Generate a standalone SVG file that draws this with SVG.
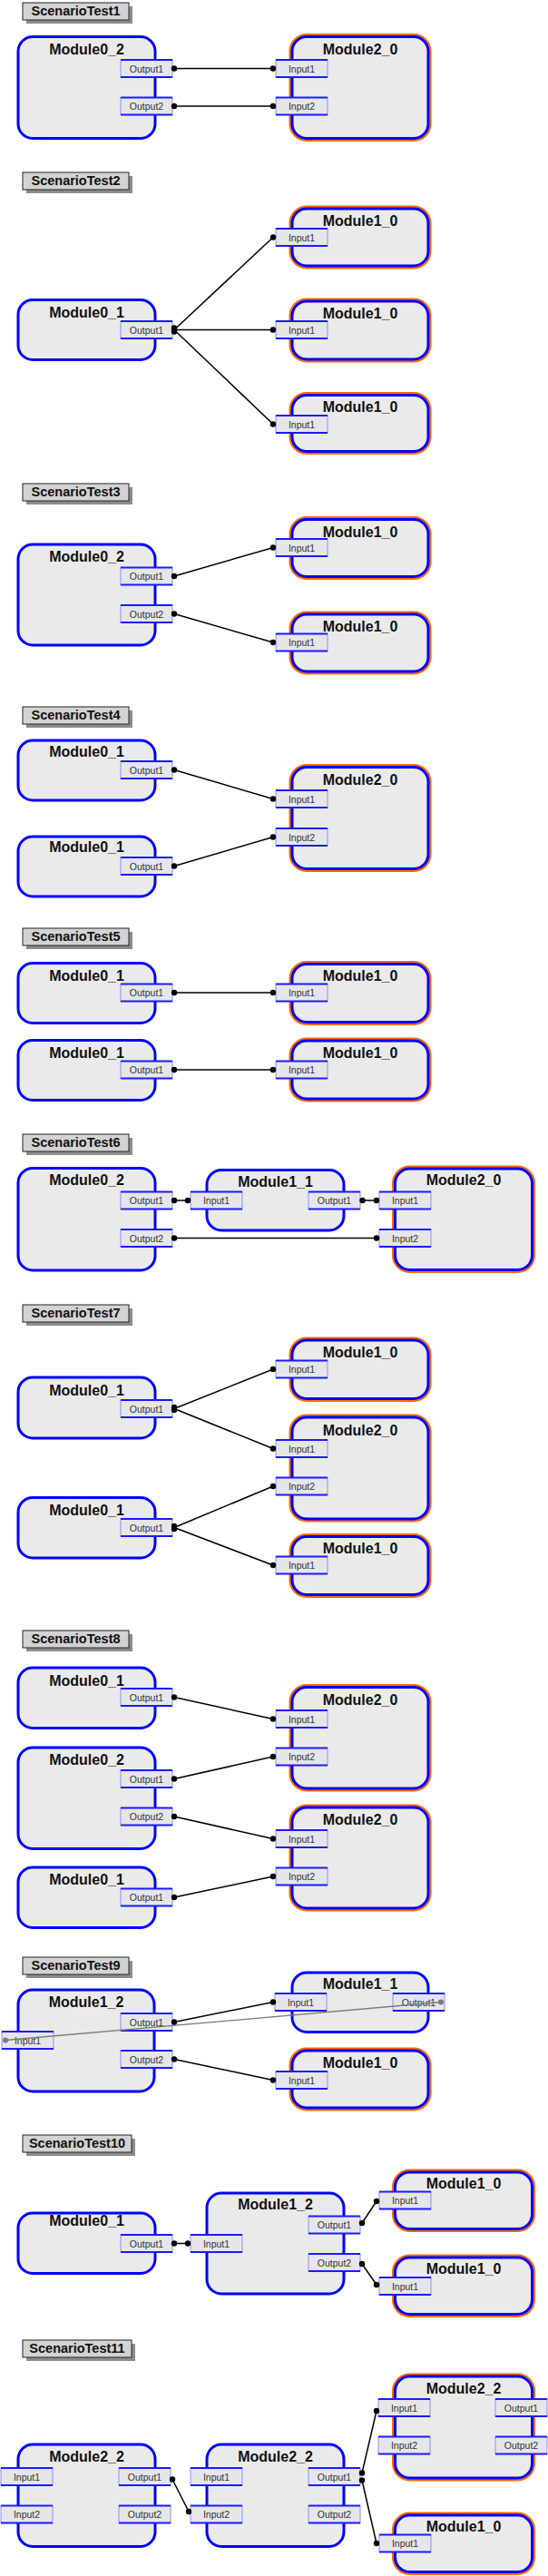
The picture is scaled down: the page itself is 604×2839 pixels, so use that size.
<svg xmlns="http://www.w3.org/2000/svg" width="604" height="2839" viewBox="0 0 604 2839">
<style>
.sh{fill:#8c8c8c}
.lb{fill:#d3d3d3;stroke:#222;stroke-width:1}
.lt{font-family:"Liberation Sans",Arial,sans-serif;font-weight:bold;font-size:14.5px;text-anchor:middle;fill:#111}
.org{fill:none;stroke:#ff6a00;stroke-width:7}
.mod{fill:#eaeaea;stroke:#0000ff;stroke-width:3}
.mt{font-family:"Liberation Sans",Arial,sans-serif;font-weight:bold;font-size:16px;text-anchor:middle;fill:#111}
.pb{fill:#e6e6e9;stroke:#8c8cff;stroke-width:1}
.pl{stroke:#1a1aff;stroke-width:2;fill:none}
.pt{font-family:"Liberation Sans",Arial,sans-serif;font-size:10.5px;text-anchor:middle;fill:#333}
.cn{stroke:#000;stroke-width:1.5;fill:none}
.dot{fill:#000}
.gcn{stroke:#7a7a7a;stroke-width:1.3;fill:none}
.gdot{fill:#7a7a7a}
</style>
<defs>
<g id="pbox"><rect class="pb" width="57" height="19"/><path class="pl" d="M0 0H57M0 19H57"/></g>
</defs>

<!-- Scenario 1 -->
<g id="label1"><rect class="sh" x="29" y="7" width="117" height="19"/><rect class="lb" x="25" y="3" width="117" height="19"/><text class="lt" x="83.5" y="17">ScenarioTest1</text></g>
<g id="s1_Module0_2"><rect class="mod" x="20" y="40.5" width="151" height="112" rx="16"/><text class="mt" x="95.5" y="59.5">Module0_2</text>
<g transform="translate(133,66)"><use href="#pbox"/><text class="pt" x="28.5" y="13.5">Output1</text></g>
<g transform="translate(133,107.5)"><use href="#pbox"/><text class="pt" x="28.5" y="13.5">Output2</text></g></g>
<g id="s1_Module2_0"><rect class="org" x="322" y="40.5" width="150" height="112" rx="16"/><rect class="mod" x="322" y="40.5" width="150" height="112" rx="16"/><text class="mt" x="397" y="59.5">Module2_0</text>
<g transform="translate(304,66)"><use href="#pbox"/><text class="pt" x="28.5" y="13.5">Input1</text></g>
<g transform="translate(304,107.5)"><use href="#pbox"/><text class="pt" x="28.5" y="13.5">Input2</text></g></g>

<!-- Scenario 2 -->
<g id="label2"><rect class="sh" x="29" y="194" width="117" height="19"/><rect class="lb" x="25" y="190" width="117" height="19"/><text class="lt" x="83.5" y="204">ScenarioTest2</text></g>
<g id="s2_Module1_0a"><rect class="org" x="322" y="230" width="150" height="63" rx="16"/><rect class="mod" x="322" y="230" width="150" height="63" rx="16"/><text class="mt" x="397" y="248.5">Module1_0</text>
<g transform="translate(304,252)"><use href="#pbox"/><text class="pt" x="28.5" y="13.5">Input1</text></g></g>
<g id="s2_Module0_1"><rect class="mod" x="20" y="330.5" width="151" height="66" rx="16"/><text class="mt" x="95.5" y="350">Module0_1</text>
<g transform="translate(133,354)"><use href="#pbox"/><text class="pt" x="28.5" y="13.5">Output1</text></g></g>
<g id="s2_Module1_0b"><rect class="org" x="322" y="332" width="150" height="64" rx="16"/><rect class="mod" x="322" y="332" width="150" height="64" rx="16"/><text class="mt" x="397" y="350.5">Module1_0</text>
<g transform="translate(304,354)"><use href="#pbox"/><text class="pt" x="28.5" y="13.5">Input1</text></g></g>
<g id="s2_Module1_0c"><rect class="org" x="322" y="435.5" width="150" height="62" rx="16"/><rect class="mod" x="322" y="435.5" width="150" height="62" rx="16"/><text class="mt" x="397" y="454">Module1_0</text>
<g transform="translate(304,458)"><use href="#pbox"/><text class="pt" x="28.5" y="13.5">Input1</text></g></g>

<!-- Scenario 3 -->
<g id="label3"><rect class="sh" x="29" y="537" width="117" height="19"/><rect class="lb" x="25" y="533" width="117" height="19"/><text class="lt" x="83.5" y="547">ScenarioTest3</text></g>
<g id="s3_Module1_0a"><rect class="org" x="322" y="572.5" width="150" height="63" rx="16"/><rect class="mod" x="322" y="572.5" width="150" height="63" rx="16"/><text class="mt" x="397" y="592">Module1_0</text>
<g transform="translate(304,594)"><use href="#pbox"/><text class="pt" x="28.5" y="13.5">Input1</text></g></g>
<g id="s3_Module0_2"><rect class="mod" x="20" y="600" width="151" height="111" rx="16"/><text class="mt" x="95.5" y="618.5">Module0_2</text>
<g transform="translate(133,625.5)"><use href="#pbox"/><text class="pt" x="28.5" y="13.5">Output1</text></g>
<g transform="translate(133,667)"><use href="#pbox"/><text class="pt" x="28.5" y="13.5">Output2</text></g></g>
<g id="s3_Module1_0b"><rect class="org" x="322" y="677" width="150" height="63" rx="16"/><rect class="mod" x="322" y="677" width="150" height="63" rx="16"/><text class="mt" x="397" y="695.5">Module1_0</text>
<g transform="translate(304,698.5)"><use href="#pbox"/><text class="pt" x="28.5" y="13.5">Input1</text></g></g>

<!-- Scenario 4 -->
<g id="label4"><rect class="sh" x="29" y="783" width="117" height="19"/><rect class="lb" x="25" y="779" width="117" height="19"/><text class="lt" x="83.5" y="793">ScenarioTest4</text></g>
<g id="s4_Module0_1a"><rect class="mod" x="20" y="816" width="151" height="66" rx="16"/><text class="mt" x="95.5" y="834">Module0_1</text>
<g transform="translate(133,839)"><use href="#pbox"/><text class="pt" x="28.5" y="13.5">Output1</text></g></g>
<g id="s4_Module2_0"><rect class="org" x="322" y="845.5" width="150" height="112" rx="16"/><rect class="mod" x="322" y="845.5" width="150" height="112" rx="16"/><text class="mt" x="397" y="865">Module2_0</text>
<g transform="translate(304,871)"><use href="#pbox"/><text class="pt" x="28.5" y="13.5">Input1</text></g>
<g transform="translate(304,913)"><use href="#pbox"/><text class="pt" x="28.5" y="13.5">Input2</text></g></g>
<g id="s4_Module0_1b"><rect class="mod" x="20" y="922" width="151" height="66" rx="16"/><text class="mt" x="95.5" y="939">Module0_1</text>
<g transform="translate(133,945)"><use href="#pbox"/><text class="pt" x="28.5" y="13.5">Output1</text></g></g>

<!-- Scenario 5 -->
<g id="label5"><rect class="sh" x="29" y="1027" width="117" height="19"/><rect class="lb" x="25" y="1023" width="117" height="19"/><text class="lt" x="83.5" y="1037">ScenarioTest5</text></g>
<g id="s5_Module0_1a"><rect class="mod" x="20" y="1061.5" width="151" height="66" rx="16"/><text class="mt" x="95.5" y="1080.5">Module0_1</text>
<g transform="translate(133,1084.5)"><use href="#pbox"/><text class="pt" x="28.5" y="13.5">Output1</text></g></g>
<g id="s5_Module1_0a"><rect class="org" x="322" y="1062.5" width="150" height="64" rx="16"/><rect class="mod" x="322" y="1062.5" width="150" height="64" rx="16"/><text class="mt" x="397" y="1080.5">Module1_0</text>
<g transform="translate(304,1084.5)"><use href="#pbox"/><text class="pt" x="28.5" y="13.5">Input1</text></g></g>
<g id="s5_Module0_1b"><rect class="mod" x="20" y="1146.5" width="151" height="66" rx="16"/><text class="mt" x="95.5" y="1165.5">Module0_1</text>
<g transform="translate(133,1169.5)"><use href="#pbox"/><text class="pt" x="28.5" y="13.5">Output1</text></g></g>
<g id="s5_Module1_0b"><rect class="org" x="322" y="1147" width="150" height="64" rx="16"/><rect class="mod" x="322" y="1147" width="150" height="64" rx="16"/><text class="mt" x="397" y="1165.5">Module1_0</text>
<g transform="translate(304,1169.5)"><use href="#pbox"/><text class="pt" x="28.5" y="13.5">Input1</text></g></g>

<!-- Scenario 6 -->
<g id="label6"><rect class="sh" x="29" y="1254" width="117" height="19"/><rect class="lb" x="25" y="1250" width="117" height="19"/><text class="lt" x="83.5" y="1264">ScenarioTest6</text></g>
<g id="s6_Module0_2"><rect class="mod" x="20" y="1287.5" width="151" height="112.5" rx="16"/><text class="mt" x="95.5" y="1306">Module0_2</text>
<g transform="translate(133,1313.5)"><use href="#pbox"/><text class="pt" x="28.5" y="13.5">Output1</text></g>
<g transform="translate(133,1355)"><use href="#pbox"/><text class="pt" x="28.5" y="13.5">Output2</text></g></g>
<g id="s6_Module1_1"><rect class="mod" x="228" y="1289.5" width="151" height="66.5" rx="16"/><text class="mt" x="303.5" y="1307.5">Module1_1</text>
<g transform="translate(210,1313.5)"><use href="#pbox"/><text class="pt" x="28.5" y="13.5">Input1</text></g>
<g transform="translate(340,1313.5)"><use href="#pbox"/><text class="pt" x="28.5" y="13.5">Output1</text></g></g>
<g id="s6_Module2_0"><rect class="org" x="435.5" y="1288" width="151" height="111.5" rx="16"/><rect class="mod" x="435.5" y="1288" width="151" height="111.5" rx="16"/><text class="mt" x="511" y="1306">Module2_0</text>
<g transform="translate(418,1313.5)"><use href="#pbox"/><text class="pt" x="28.5" y="13.5">Input1</text></g>
<g transform="translate(418,1355)"><use href="#pbox"/><text class="pt" x="28.5" y="13.5">Input2</text></g></g>

<!-- Scenario 7 -->
<g id="label7"><rect class="sh" x="29" y="1442" width="117" height="19"/><rect class="lb" x="25" y="1438" width="117" height="19"/><text class="lt" x="83.5" y="1452">ScenarioTest7</text></g>
<g id="s7_Module1_0a"><rect class="org" x="322" y="1477" width="150" height="64.5" rx="16"/><rect class="mod" x="322" y="1477" width="150" height="64.5" rx="16"/><text class="mt" x="397" y="1495.5">Module1_0</text>
<g transform="translate(304,1499.5)"><use href="#pbox"/><text class="pt" x="28.5" y="13.5">Input1</text></g></g>
<g id="s7_Module0_1a"><rect class="mod" x="20" y="1518" width="151" height="67" rx="16"/><text class="mt" x="95.5" y="1537.5">Module0_1</text>
<g transform="translate(133,1543)"><use href="#pbox"/><text class="pt" x="28.5" y="13.5">Output1</text></g></g>
<g id="s7_Module2_0"><rect class="org" x="322" y="1562" width="150" height="112" rx="16"/><rect class="mod" x="322" y="1562" width="150" height="112" rx="16"/><text class="mt" x="397" y="1581.5">Module2_0</text>
<g transform="translate(304,1587)"><use href="#pbox"/><text class="pt" x="28.5" y="13.5">Input1</text></g>
<g transform="translate(304,1628.5)"><use href="#pbox"/><text class="pt" x="28.5" y="13.5">Input2</text></g></g>
<g id="s7_Module0_1b"><rect class="mod" x="20" y="1650.5" width="151" height="66.5" rx="16"/><text class="mt" x="95.5" y="1670">Module0_1</text>
<g transform="translate(133,1674)"><use href="#pbox"/><text class="pt" x="28.5" y="13.5">Output1</text></g></g>
<g id="s7_Module1_0c"><rect class="org" x="322" y="1693.5" width="150" height="64" rx="16"/><rect class="mod" x="322" y="1693.5" width="150" height="64" rx="16"/><text class="mt" x="397" y="1712">Module1_0</text>
<g transform="translate(304,1715.5)"><use href="#pbox"/><text class="pt" x="28.5" y="13.5">Input1</text></g></g>

<!-- Scenario 8 -->
<g id="label8"><rect class="sh" x="29" y="1801" width="117" height="19"/><rect class="lb" x="25" y="1797" width="117" height="19"/><text class="lt" x="83.5" y="1811">ScenarioTest8</text></g>
<g id="s8_Module0_1a"><rect class="mod" x="20" y="1838" width="151" height="66.5" rx="16"/><text class="mt" x="95.5" y="1857.5">Module0_1</text>
<g transform="translate(133,1861)"><use href="#pbox"/><text class="pt" x="28.5" y="13.5">Output1</text></g></g>
<g id="s8_Module2_0a"><rect class="org" x="322" y="1859.5" width="150" height="111.5" rx="16"/><rect class="mod" x="322" y="1859.5" width="150" height="111.5" rx="16"/><text class="mt" x="397" y="1878.5">Module2_0</text>
<g transform="translate(304,1885)"><use href="#pbox"/><text class="pt" x="28.5" y="13.5">Input1</text></g>
<g transform="translate(304,1926.5)"><use href="#pbox"/><text class="pt" x="28.5" y="13.5">Input2</text></g></g>
<g id="s8_Module0_2"><rect class="mod" x="20" y="1926" width="151" height="111.5" rx="16"/><text class="mt" x="95.5" y="1945">Module0_2</text>
<g transform="translate(133,1951)"><use href="#pbox"/><text class="pt" x="28.5" y="13.5">Output1</text></g>
<g transform="translate(133,1992.5)"><use href="#pbox"/><text class="pt" x="28.5" y="13.5">Output2</text></g></g>
<g id="s8_Module2_0b"><rect class="org" x="322" y="1992" width="150" height="111" rx="16"/><rect class="mod" x="322" y="1992" width="150" height="111" rx="16"/><text class="mt" x="397" y="2011">Module2_0</text>
<g transform="translate(304,2017)"><use href="#pbox"/><text class="pt" x="28.5" y="13.5">Input1</text></g>
<g transform="translate(304,2058.5)"><use href="#pbox"/><text class="pt" x="28.5" y="13.5">Input2</text></g></g>
<g id="s8_Module0_1b"><rect class="mod" x="20" y="2058" width="151" height="66.5" rx="16"/><text class="mt" x="95.5" y="2077">Module0_1</text>
<g transform="translate(133,2081.5)"><use href="#pbox"/><text class="pt" x="28.5" y="13.5">Output1</text></g></g>

<!-- Scenario 9 -->
<g id="label9"><rect class="sh" x="29" y="2161" width="117" height="19"/><rect class="lb" x="25" y="2157" width="117" height="19"/><text class="lt" x="83.5" y="2171">ScenarioTest9</text></g>
<g id="s9_Module1_1"><rect class="mod" x="322" y="2174" width="150" height="65.5" rx="16"/><text class="mt" x="397" y="2192">Module1_1</text>
<g transform="translate(303,2197)"><use href="#pbox"/><text class="pt" x="28.5" y="13.5">Input1</text></g>
<g transform="translate(433,2197)"><use href="#pbox"/><text class="pt" x="28.5" y="13.5">Output1</text></g></g>
<g id="s9_Module1_2"><rect class="mod" x="20" y="2193" width="150" height="112" rx="16"/><text class="mt" x="95" y="2211.5">Module1_2</text>
<g transform="translate(2,2239)"><use href="#pbox"/><text class="pt" x="28.5" y="13.5">Input1</text></g>
<g transform="translate(133,2219)"><use href="#pbox"/><text class="pt" x="28.5" y="13.5">Output1</text></g>
<g transform="translate(133,2260)"><use href="#pbox"/><text class="pt" x="28.5" y="13.5">Output2</text></g></g>
<g id="s9_Module1_0"><rect class="org" x="322" y="2260" width="150" height="63" rx="16"/><rect class="mod" x="322" y="2260" width="150" height="63" rx="16"/><text class="mt" x="397" y="2278.5">Module1_0</text>
<g transform="translate(304,2283)"><use href="#pbox"/><text class="pt" x="28.5" y="13.5">Input1</text></g></g>

<!-- Scenario 10 -->
<g id="label10"><rect class="sh" x="29" y="2357" width="120" height="19"/><rect class="lb" x="25" y="2353" width="120" height="19"/><text class="lt" x="85" y="2367">ScenarioTest10</text></g>
<g id="s10_Module1_0a"><rect class="org" x="435.5" y="2394" width="151" height="62.5" rx="16"/><rect class="mod" x="435.5" y="2394" width="151" height="62.5" rx="16"/><text class="mt" x="511" y="2412">Module1_0</text>
<g transform="translate(418,2415.5)"><use href="#pbox"/><text class="pt" x="28.5" y="13.5">Input1</text></g></g>
<g id="s10_Module1_2"><rect class="mod" x="228" y="2417" width="151" height="111" rx="16"/><text class="mt" x="303.5" y="2435">Module1_2</text>
<g transform="translate(210,2463)"><use href="#pbox"/><text class="pt" x="28.5" y="13.5">Input1</text></g>
<g transform="translate(340,2442.5)"><use href="#pbox"/><text class="pt" x="28.5" y="13.5">Output1</text></g>
<g transform="translate(340,2484)"><use href="#pbox"/><text class="pt" x="28.5" y="13.5">Output2</text></g></g>
<g id="s10_Module0_1"><rect class="mod" x="20" y="2439" width="151" height="66.5" rx="16"/><text class="mt" x="95.5" y="2453">Module0_1</text>
<g transform="translate(133,2463)"><use href="#pbox"/><text class="pt" x="28.5" y="13.5">Output1</text></g></g>
<g id="s10_Module1_0b"><rect class="org" x="435.5" y="2488" width="151" height="62.5" rx="16"/><rect class="mod" x="435.5" y="2488" width="151" height="62.5" rx="16"/><text class="mt" x="511" y="2506">Module1_0</text>
<g transform="translate(418,2510)"><use href="#pbox"/><text class="pt" x="28.5" y="13.5">Input1</text></g></g>

<!-- Scenario 11 -->
<g id="label11"><rect class="sh" x="29" y="2583" width="120" height="19"/><rect class="lb" x="25" y="2579" width="120" height="19"/><text class="lt" x="85" y="2593">ScenarioTest11</text></g>
<g id="s11_Module2_2r"><rect class="org" x="435.5" y="2619" width="151" height="112" rx="16"/><rect class="mod" x="435.5" y="2619" width="151" height="112" rx="16"/><text class="mt" x="511" y="2637.5">Module2_2</text>
<g transform="translate(417,2644)"><use href="#pbox"/><text class="pt" x="28.5" y="13.5">Input1</text></g>
<g transform="translate(417,2685.5)"><use href="#pbox"/><text class="pt" x="28.5" y="13.5">Input2</text></g>
<g transform="translate(546,2644)"><use href="#pbox"/><text class="pt" x="28.5" y="13.5">Output1</text></g>
<g transform="translate(546,2685.5)"><use href="#pbox"/><text class="pt" x="28.5" y="13.5">Output2</text></g></g>
<g id="s11_Module2_2l"><rect class="mod" x="20" y="2694" width="151" height="112.5" rx="16"/><text class="mt" x="95.5" y="2713">Module2_2</text>
<g transform="translate(1,2720)"><use href="#pbox"/><text class="pt" x="28.5" y="13.5">Input1</text></g>
<g transform="translate(1,2761.5)"><use href="#pbox"/><text class="pt" x="28.5" y="13.5">Input2</text></g>
<g transform="translate(131,2720)"><use href="#pbox"/><text class="pt" x="28.5" y="13.5">Output1</text></g>
<g transform="translate(131,2761.5)"><use href="#pbox"/><text class="pt" x="28.5" y="13.5">Output2</text></g></g>
<g id="s11_Module2_2m"><rect class="mod" x="228" y="2694" width="151" height="112.5" rx="16"/><text class="mt" x="303.5" y="2713">Module2_2</text>
<g transform="translate(210,2720)"><use href="#pbox"/><text class="pt" x="28.5" y="13.5">Input1</text></g>
<g transform="translate(210,2761.5)"><use href="#pbox"/><text class="pt" x="28.5" y="13.5">Input2</text></g>
<g transform="translate(340,2720)"><use href="#pbox"/><text class="pt" x="28.5" y="13.5">Output1</text></g>
<g transform="translate(340,2761.5)"><use href="#pbox"/><text class="pt" x="28.5" y="13.5">Output2</text></g></g>
<g id="s11_Module1_0"><rect class="org" x="435.5" y="2772" width="151" height="62.5" rx="16"/><rect class="mod" x="435.5" y="2772" width="151" height="62.5" rx="16"/><text class="mt" x="511" y="2790">Module1_0</text>
<g transform="translate(418,2793.5)"><use href="#pbox"/><text class="pt" x="28.5" y="13.5">Input1</text></g></g>

<!-- Connectors -->
<g id="connectors">
<path class="cn" d="M192 75.5H301M192 117H301"/>
<path class="cn" d="M192 363.5L301 261.5M192 363.5H301M192 363.5L301 467.5"/>
<path class="cn" d="M192 635L301 603.5M192 676.5L301 708"/>
<path class="cn" d="M192 848.5L301 880.5M192 954.5L301 922.5"/>
<path class="cn" d="M192 1094H301M192 1179H301"/>
<path class="cn" d="M192 1323H207M399.5 1323H415M192 1364.5H415"/>
<path class="cn" d="M192 1552.5L301 1509M192 1552.5L301 1596.5M192 1683.5L301 1638M192 1683.5L301 1725"/>
<path class="cn" d="M192 1870.5L301 1894.5M192 1960.5L301 1936M192 2002L301 2026.5M192 2091L301 2068"/>
<path class="cn" d="M192 2228.5L301 2206.5M192 2269.5L301 2292.5"/>
<path class="gcn" d="M6 2248.5L486 2206.5"/>
<path class="cn" d="M192 2472.5H207M399 2450L415 2426M399 2495L415 2518"/>
<path class="cn" d="M190 2732.5L208 2768M399 2725.5L415 2657M399 2733.5L415 2803"/>
<g class="dot">
<circle cx="192" cy="75.5" r="3.2"/><circle cx="301" cy="75.5" r="3.2"/><circle cx="192" cy="117" r="3.2"/><circle cx="301" cy="117" r="3.2"/>
<circle cx="192" cy="361.5" r="3.2"/><circle cx="192" cy="363.5" r="3.2"/><circle cx="192" cy="365.5" r="3.2"/><circle cx="301" cy="261.5" r="3.2"/><circle cx="301" cy="363.5" r="3.2"/><circle cx="301" cy="467.5" r="3.2"/>
<circle cx="192" cy="635" r="3.2"/><circle cx="301" cy="603.5" r="3.2"/><circle cx="192" cy="676.5" r="3.2"/><circle cx="301" cy="708" r="3.2"/>
<circle cx="192" cy="848.5" r="3.2"/><circle cx="301" cy="880.5" r="3.2"/><circle cx="192" cy="954.5" r="3.2"/><circle cx="301" cy="922.5" r="3.2"/>
<circle cx="192" cy="1094" r="3.2"/><circle cx="301" cy="1094" r="3.2"/><circle cx="192" cy="1179" r="3.2"/><circle cx="301" cy="1179" r="3.2"/>
<circle cx="192" cy="1323" r="3.2"/><circle cx="207" cy="1323" r="3.2"/><circle cx="399.5" cy="1323" r="3.2"/><circle cx="415" cy="1323" r="3.2"/><circle cx="192" cy="1364.5" r="3.2"/><circle cx="415" cy="1364.5" r="3.2"/>
<circle cx="192" cy="1551" r="3.2"/><circle cx="192" cy="1554" r="3.2"/><circle cx="301" cy="1509" r="3.2"/><circle cx="301" cy="1596.5" r="3.2"/>
<circle cx="192" cy="1682" r="3.2"/><circle cx="192" cy="1685" r="3.2"/><circle cx="301" cy="1638" r="3.2"/><circle cx="301" cy="1725" r="3.2"/>
<circle cx="192" cy="1870.5" r="3.2"/><circle cx="301" cy="1894.5" r="3.2"/><circle cx="192" cy="1960.5" r="3.2"/><circle cx="301" cy="1936" r="3.2"/><circle cx="192" cy="2002" r="3.2"/><circle cx="301" cy="2026.5" r="3.2"/><circle cx="192" cy="2091" r="3.2"/><circle cx="301" cy="2068" r="3.2"/>
<circle cx="192" cy="2228.5" r="3.2"/><circle cx="301" cy="2206.5" r="3.2"/><circle cx="192" cy="2269.5" r="3.2"/><circle cx="301" cy="2292.5" r="3.2"/>
<circle cx="192" cy="2472.5" r="3.2"/><circle cx="207" cy="2472.5" r="3.2"/><circle cx="399" cy="2450" r="3.2"/><circle cx="415" cy="2426" r="3.2"/><circle cx="399" cy="2495" r="3.2"/><circle cx="415" cy="2518" r="3.2"/>
<circle cx="190" cy="2732.5" r="3.2"/><circle cx="208" cy="2768" r="3.2"/><circle cx="399" cy="2725.5" r="3.2"/><circle cx="399" cy="2733.5" r="3.2"/><circle cx="415" cy="2657" r="3.2"/><circle cx="415" cy="2803" r="3.2"/>
</g>
<g class="gdot"><circle cx="6" cy="2248.5" r="3"/><circle cx="486" cy="2206.5" r="3"/></g>
</g>
</svg>
